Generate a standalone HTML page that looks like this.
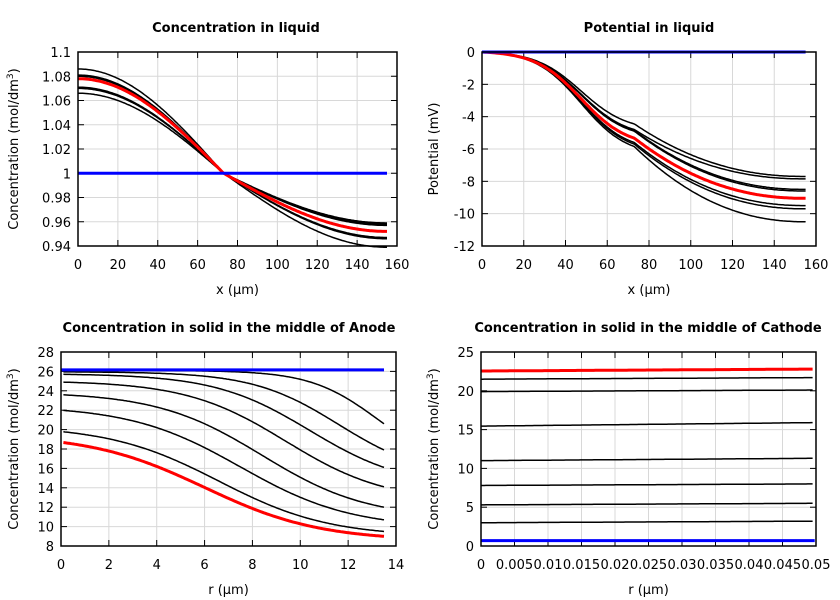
<!DOCTYPE html>
<html><head><meta charset="utf-8"><style>
body{margin:0;background:#fff;}
svg{display:block;font-family:"DejaVu Sans","Liberation Sans",sans-serif;}
</style></head><body>
<svg id="s" width="840" height="600" xmlns="http://www.w3.org/2000/svg"></svg>
<script>
const S=document.getElementById('s');let h='';
function panel(o){
 const {x0,x1,y0,y1,xmin,xmax,ymin,ymax,xt,yt,title,tx,xl,yl,ylx,series}=o;
 const X=v=>x0+(v-xmin)/(xmax-xmin)*(x1-x0), Y=v=>y1-(v-ymin)/(ymax-ymin)*(y1-y0);
 xt.forEach(t=>{const x=X(t[0]);h+=`<line x1="${x}" y1="${y0}" x2="${x}" y2="${y1}" stroke="#d8d8d8"/>`;
  h+=`<line x1="${x}" y1="${y1}" x2="${x}" y2="${y1-6}" stroke="#000"/><line x1="${x}" y1="${y0}" x2="${x}" y2="${y0+6}" stroke="#000"/>`;
  h+=`<text x="${x}" y="${y1+23}" font-size="13" text-anchor="middle">${t[1]}</text>`;});
 yt.forEach(t=>{const y=Y(t[0]);h+=`<line x1="${x0}" y1="${y}" x2="${x1}" y2="${y}" stroke="#d8d8d8"/>`;
  h+=`<line x1="${x0}" y1="${y}" x2="${x0+6}" y2="${y}" stroke="#000"/><line x1="${x1}" y1="${y}" x2="${x1-6}" y2="${y}" stroke="#000"/>`;
  h+=`<text x="${x0-7}" y="${y+5}" font-size="13" text-anchor="end">${t[1]}</text>`;});
 series.forEach(s=>{let d='';for(let i=0;i<=200;i++){const v=s.a+(s.b-s.a)*i/200;d+=(i?'L':'M')+X(v).toFixed(1)+','+Y(s.f(v)).toFixed(1);}
  h+=`<path d="${d}" fill="none" stroke="${s.c}" stroke-width="${s.w}"/>`;});
 h+=`<rect x="${x0}" y="${y0}" width="${x1-x0}" height="${y1-y0}" fill="none" stroke="#000" stroke-width="1.5"/>`;
 h+=`<text x="${tx}" y="${y0-20}" font-size="13" font-weight="bold" text-anchor="middle">${title}</text>`;
 h+=`<text x="${(x0+x1)/2}" y="${y1+48}" font-size="13" text-anchor="middle">${xl}</text>`;
 h+=`<text transform="translate(${ylx},${(y0+y1)/2}) rotate(-90)" font-size="13" text-anchor="middle">${yl}</text>`;
}
const conc='Concentration (mol/dm<tspan dy="-5" font-size="9">3</tspan><tspan dy="5">)</tspan>';
const r=(a,b,s,fm)=>{const o=[];for(let v=a;v<=b+1e-9;v+=s)o.push([v,fm?fm(v):String(+v.toFixed(4))]);return o;};
// Panel 1
let s1=[];
[[1.086,0.939],[1.081,0.946],[1.080,0.947],[1.071,0.957],[1.070,0.958],[1.066,0.959],[1.078,0.952,'r']].forEach(p=>{
 s1.push({a:0,b:155,c:p[2]?'#f00':'#000',w:p[2]?3:1.5,f:x=>x<73?1+(p[0]-1)*Math.cos(Math.PI/2*x/73):1-(1-p[1])*Math.sin(Math.PI/2*(x-73)/82)});});
s1.push({a:0,b:155,c:'#00f',w:3,f:x=>1});
panel({x0:78,x1:397,y0:52,y1:246,xmin:0,xmax:160,ymin:0.94,ymax:1.1,xt:r(0,160,20),yt:r(0.94,1.1,0.02,v=>String(+v.toFixed(2))),title:'Concentration in liquid',tx:236,xl:'x (µm)',yl:conc,ylx:18,series:s1});
// Panel 2
let s2=[];
const L=t=>1/(1+Math.exp(-(t-0.65)/0.15)),L0=L(0),L1=L(1);
[[4.45,7.7],[4.8,7.85],[4.85,8.5],[4.9,8.6],[5.6,9.5],[5.7,9.7],[5.85,10.5],[5.33,9.05,'r']].forEach(p=>{
 s2.push({a:0,b:155,c:p[2]?'#f00':'#000',w:p[2]?3:1.5,f:x=>{if(x<73){const t=x/73;return -p[0]*(L(t)-L0)/(L1-L0);}const s=(x-73)/82;return -p[0]-(p[1]-p[0])*(1-Math.pow(1-s,2.2));}});});
s2.push({a:0,b:155,c:'#00f',w:3,f:x=>0});
panel({x0:482,x1:816,y0:52,y1:246,xmin:0,xmax:160,ymin:-12,ymax:0,xt:r(0,160,20),yt:r(-12,0,2),title:'Potential in liquid',tx:649,xl:'x (µm)',yl:'Potential (mV)',ylx:438,series:s2});
// Panel 3
let s3=[];
const lg=(r,m,s)=>1/(1+Math.exp(-(r-m)/s));
[[26.1,20.6,13.2,1.4],[25.95,17.9,11.6,1.8],[25.7,16.1,10.4,2.0],[24.9,14.1,9.4,2.1],[23.6,12.0,8.4,2.2],[22.0,10.7,7.5,2.3],[19.8,9.5,6.6,2.3],[18.7,9.0,6.0,2.4,'r']].forEach(p=>{
 const g0=lg(0,p[2],p[3]),g1=lg(13.5,p[2],p[3]);
 s3.push({a:0.1,b:13.5,c:p[4]?'#f00':'#000',w:p[4]?3:1.5,f:x=>p[0]-(p[0]-p[1])*(lg(x,p[2],p[3])-g0)/(g1-g0)});});
s3.push({a:0,b:13.5,c:'#00f',w:3,f:x=>26.15});
panel({x0:61,x1:396,y0:352,y1:546,xmin:0,xmax:14,ymin:8,ymax:28,xt:r(0,14,2),yt:r(8,28,2),title:'Concentration in solid in the middle of Anode',tx:229,xl:'r (µm)',yl:conc,ylx:18,series:s3});
// Panel 4
let s4=[];
[[21.5,21.7],[19.9,20.1],[15.45,15.9],[11.0,11.3],[7.8,8.0],[5.3,5.5],[3.0,3.2],[22.55,22.8,'r']].forEach(p=>{
 s4.push({a:0,b:0.0495,c:p[2]?'#f00':'#000',w:p[2]?3:1.5,f:x=>p[0]+(p[1]-p[0])*x/0.0495});});
s4.push({a:0,b:0.0498,c:'#00f',w:3,f:x=>0.7});
panel({x0:481,x1:816,y0:352,y1:546,xmin:0,xmax:0.05,ymin:0,ymax:25,xt:r(0,0.05,0.005,v=>String(+v.toFixed(3))),yt:r(0,25,5),title:'Concentration in solid in the middle of Cathode',tx:648,xl:'r (µm)',yl:conc,ylx:438,series:s4});
S.innerHTML=h;
</script>
</body></html>
